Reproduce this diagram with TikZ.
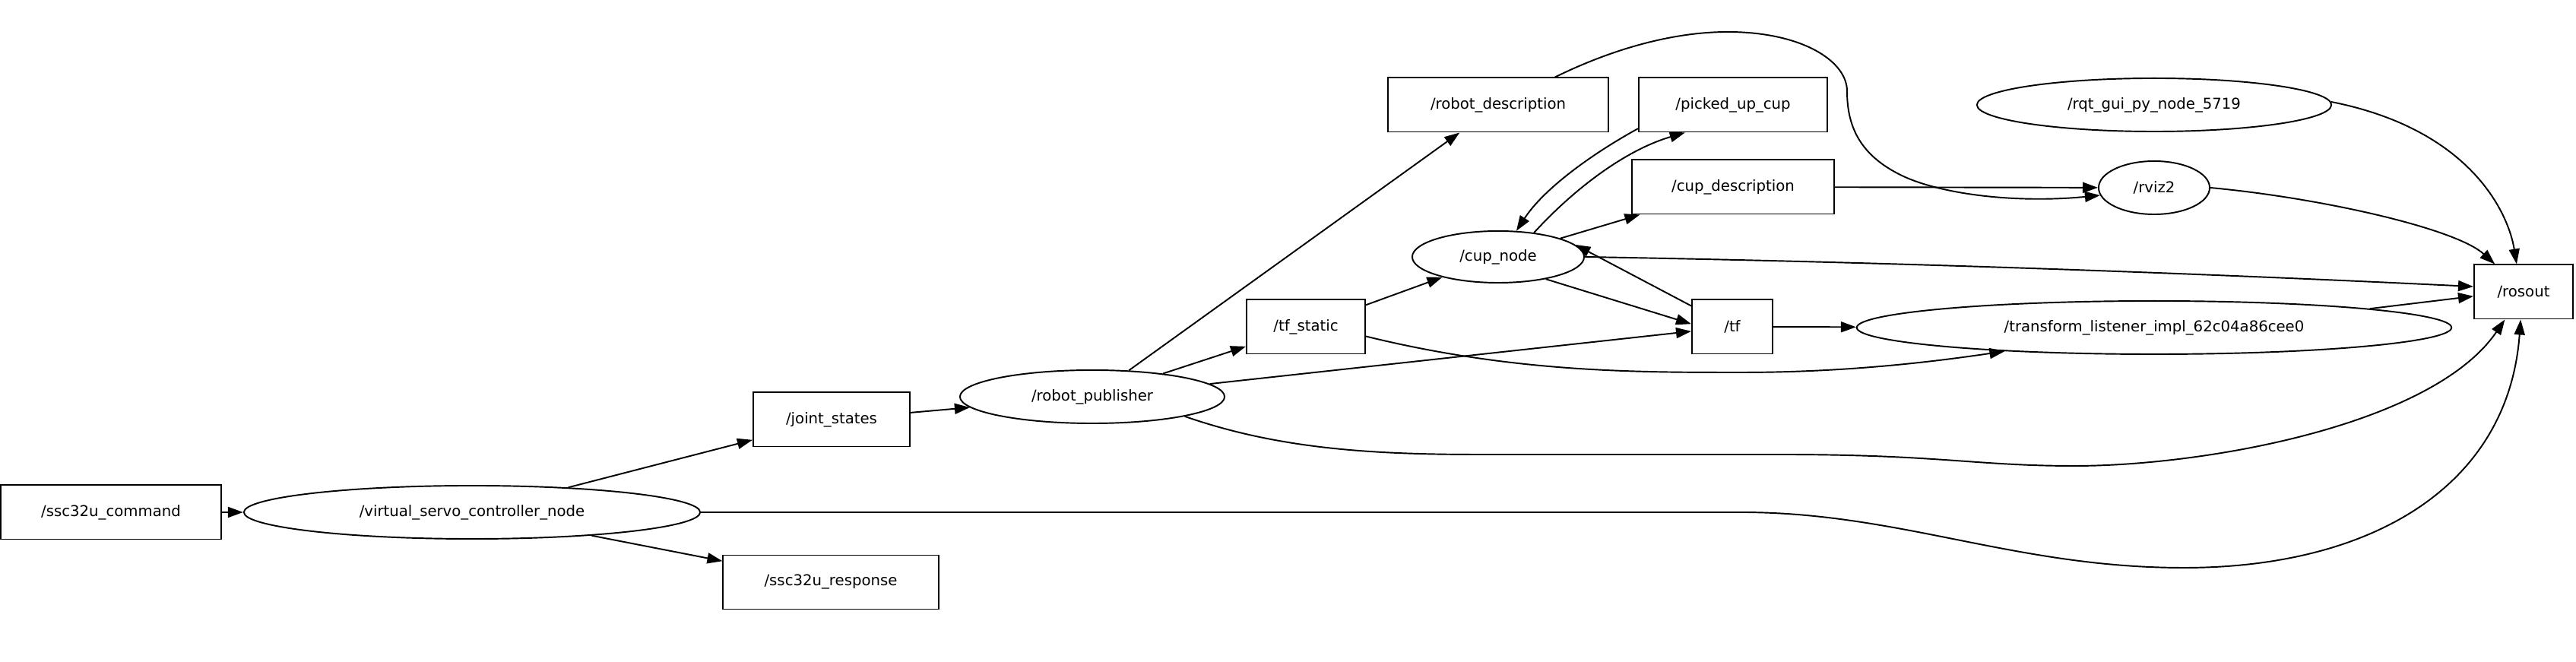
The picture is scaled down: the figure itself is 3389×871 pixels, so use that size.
\documentclass[tikz,border=0pt]{standalone}
\usepackage{fontspec}
\setmainfont{DejaVu Sans}
\usetikzlibrary{positioning, arrows.meta, shapes.geometric}

\begin{document}
\begin{tikzpicture}[
  x=0.01cm, y=-0.01cm,
  line width=0.55pt,
  font=\fontsize{5.6pt}{6.7pt}\selectfont,
  topic/.style={draw, rectangle, minimum height=0.71cm, inner sep=0pt},
  rosnode/.style={draw, ellipse, minimum height=0.70cm, inner sep=0pt},
  arr/.style={-{Triangle[length=0.2cm, width=0.14cm]}}
]
\useasboundingbox (0,0) rectangle (3389,871);

\node[topic, minimum width=2.89cm] (cmd) at (146,674) {/ssc32u\_command};
\node[rosnode, minimum width=6.00cm] (vscn) at (621,674) {/virtual\_servo\_controller\_node};
\node[topic, minimum width=2.06cm] (joint) at (1094,552) {/joint\_states};
\node[topic, minimum width=2.83cm] (resp) at (1093,766) {/ssc32u\_response};
\node[rosnode, minimum width=3.48cm] (rpub) at (1437,522) {/robot\_publisher};
\node[topic, minimum width=1.56cm] (tfstat) at (1718,430) {/tf\_static};
\node[topic, minimum width=1.06cm] (tf) at (2279,430) {/tf};
\node[rosnode, minimum width=2.26cm, minimum height=0.68cm] (cup) at (1971,338) {/cup\_node};
\node[topic, minimum width=2.90cm] (rdesc) at (1971,138) {/robot\_description};
\node[topic, minimum width=2.48cm] (picked) at (2280,138) {/picked\_up\_cup};
\node[topic, minimum width=2.66cm] (cupdesc) at (2280,246) {/cup\_description};
\node[rosnode, minimum width=1.46cm] (rviz) at (2834,247) {/rviz2};
\node[rosnode, minimum width=4.66cm] (rqt) at (2834,138) {/rqt\_gui\_py\_node\_5719};
\node[topic, minimum width=1.30cm] (rosout) at (3320,384) {/rosout};
\node[rosnode, minimum width=7.82cm] (tfl) at (2834,431) {/transform\_listener\_impl\_62c04a86cee0};

\draw[arr] (cmd) -- (vscn);
\draw[arr] (vscn) -- (joint);
\draw[arr] (vscn) -- (resp);
\draw[arr] (vscn.east) -- (2290,674) .. controls (2500,674) and (2650,747) .. (2873,747)
  .. controls (3120,747) and (3300,640) .. (rosout.-96);
\draw[arr] (joint) -- (rpub);
\draw[arr] (rpub) -- (rdesc);
\draw[arr] (rpub) -- (tfstat);
\draw[arr] (rpub) -- (tf);
\draw[arr] (rpub.-12) .. controls (1680,590) and (1800,598) .. (1946,598) -- (2343,598)
  .. controls (2550,598) and (2600,613) .. (2729,613)
  .. controls (2900,613) and (3200,560) .. (rosout.-124);
\draw[arr] (tfstat) -- (cup);
\draw[arr] (tfstat.-9.5) .. controls (1990,490) and (2150,490) .. (2290,490)
  .. controls (2420,490) and (2530,478) .. (tfl.-171.5);
\draw[arr] (tf.153) -- (cup.9);
\draw[arr] (cup.-25) -- (tf.176);
\draw[arr] (tf) -- (tfl);
\draw[arr] (cup.34) .. controls (2060,260) and (2130,200) .. (picked.-150.6);
\draw[arr] (picked.-166) .. controls (2090,205) and (2030,250) .. (cup.55);
\draw[arr] (cup) -- (cupdesc);
\draw[arr] (cup.east) .. controls (2500,345) and (2900,360) .. (rosout.174);
\draw[arr] (cupdesc) -- (rviz);
\draw[arr] (rdesc.26.6) .. controls (2120,65) and (2200,42) .. (2273,42)
  .. controls (2370,42) and (2430,80) .. (2430,120)
  .. controls (2430,170) and (2450,205) .. (2500,230)
  .. controls (2550,255) and (2650,268) .. (rviz.-172);
\draw[arr] (rviz.east) .. controls (3050,260) and (3230,300) .. (rosout.136);
\draw[arr] (rqt.1) .. controls (3250,170) and (3300,280) .. (rosout.104);
\draw[arr] (tfl.5.5) -- (rosout.185);
\end{tikzpicture}
\end{document}
